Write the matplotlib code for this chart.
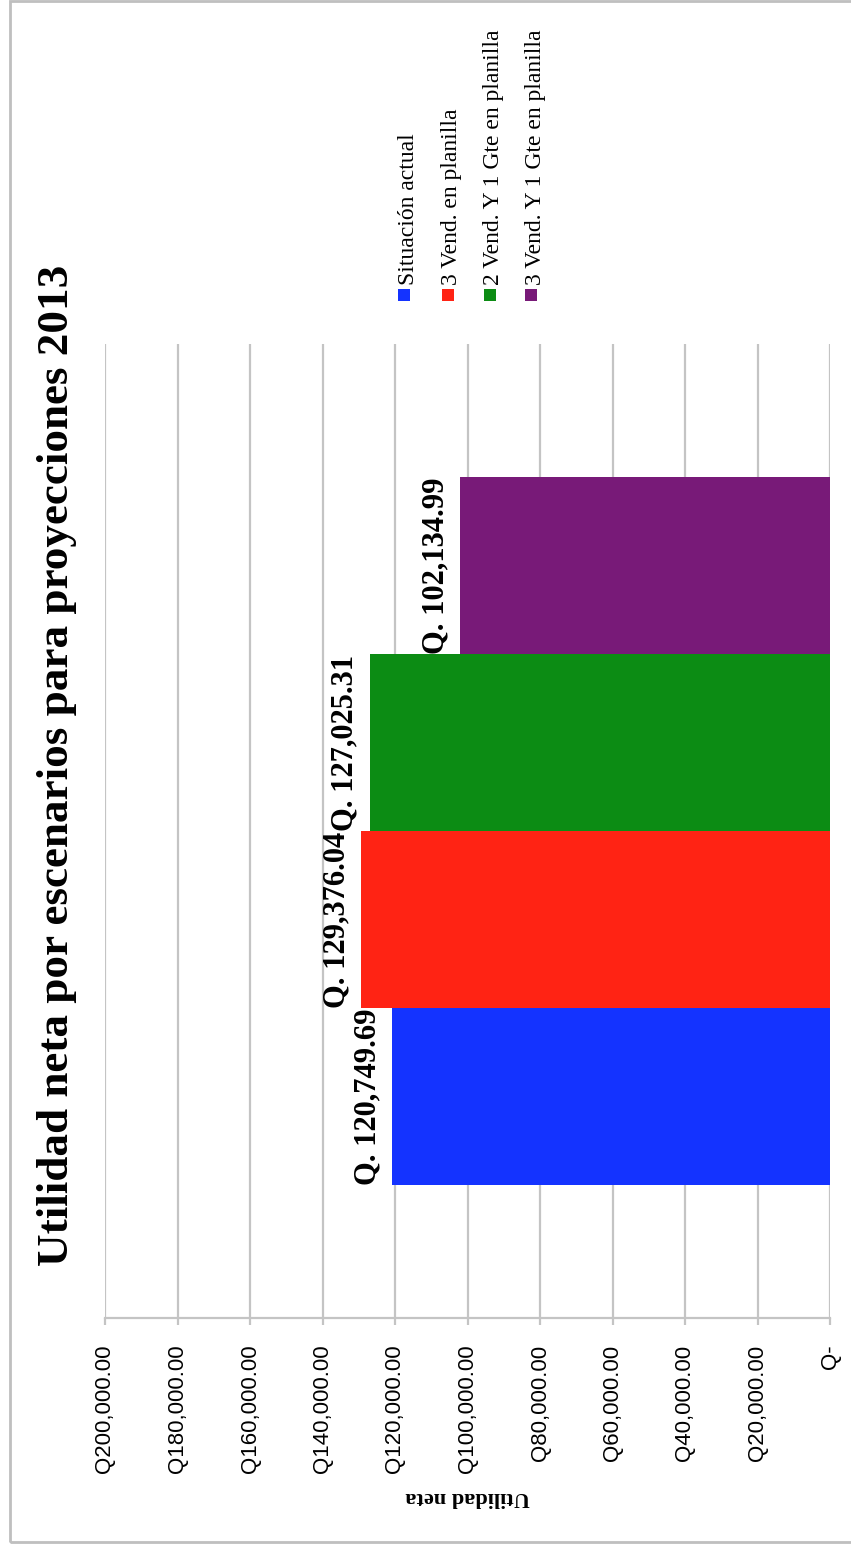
import matplotlib
matplotlib.use("Agg")
import matplotlib.pyplot as plt
from matplotlib.patches import Rectangle
from matplotlib.ticker import FuncFormatter, MultipleLocator

# Data
scenarios = [
    "Situación actual",
    "3 Vend. en planilla",
    "2 Vend. Y 1 Gte en planilla",
    "3 Vend. Y 1 Gte en planilla",
]
net_income = [120749.69, 129376.04, 127025.31, 102134.99]
bar_colors = ["#1433FF", "#FF2314", "#0C8C14", "#781A78"]
value_ticks = [0, 20000, 40000, 60000, 80000, 100000, 120000, 140000, 160000, 180000, 200000]

title = "Utilidad neta por escenarios para proyecciones 2013"
axis_title = "Utilidad neta"

W, H = 851, 1544
fig = plt.figure(figsize=(W / 100, H / 100), dpi=100)
fig.patch.set_facecolor("white")

def fx(px):
    return px / W

def fy(py):
    return 1 - py / H

# Outer chart frame
fig.patches.append(Rectangle((fx(10), fy(1542)), 1.0, fy(1) - fy(1542),
                             transform=fig.transFigure, fill=False,
                             edgecolor="#BFBFBF", linewidth=2.0))

ax = fig.add_axes([fx(105), fy(1318), fx(830) - fx(105), fy(344) - fy(1318)])

positions = list(range(len(net_income)))
ax.barh(positions, net_income, height=1.0, color=bar_colors, zorder=3)
ax.set_ylim(-1.25, 4.25)
ax.set_xlim(value_ticks[-1], value_ticks[0])  # zero on the right

ax.xaxis.set_major_locator(MultipleLocator(20000))
ax.grid(axis="x", color="#C4C4C4", linewidth=1.6, zorder=0)
ax.set_yticks([])

def fmt(v, _):
    if v == 0:
        return "Q-"
    return "Q{:,.2f}".format(v)

ax.xaxis.set_major_formatter(FuncFormatter(fmt))
ax.tick_params(axis="x", direction="out", length=5, width=1.6, color="#C4C4C4",
               pad=14, labelsize=16, labelrotation=90)
for lab in ax.get_xticklabels():
    lab.set_fontfamily("Liberation Sans")
    lab.set_verticalalignment("top")

for side in ("top", "left", "right"):
    ax.spines[side].set_visible(False)
ax.spines["bottom"].set_color("#C4C4C4")
ax.spines["bottom"].set_linewidth(1.6)

ax.set_xlabel(axis_title, rotation=180, fontsize=16, fontweight="bold",
              family="Liberation Serif", labelpad=10)

# Value labels at the end of each bar
for pos, val in zip(positions, net_income):
    ax.annotate("Q. {:,.2f}".format(val), xy=(val, pos), xytext=(-7, 0),
                textcoords="offset points", rotation=90, ha="right", va="center",
                fontsize=22, fontweight="bold", family="Liberation Serif", zorder=4)

# Title
fig.text(fx(57), fy(765), title, rotation=90, ha="center", va="center",
         fontsize=32.5, fontweight="bold", family="Liberation Serif")

# Legend
legend_x = [404, 448, 490, 531]
for xpx, name, col in zip(legend_x, scenarios, bar_colors):
    fig.patches.append(Rectangle((fx(xpx - 6), fy(301)), fx(12), fy(289) - fy(301),
                                 transform=fig.transFigure, facecolor=col,
                                 edgecolor="none"))
    fig.text(fx(xpx + 4), fy(285), name, rotation=90, ha="center", va="bottom",
             fontsize=17, family="Liberation Serif")

fig.savefig("out.png", dpi=100, facecolor="white")
